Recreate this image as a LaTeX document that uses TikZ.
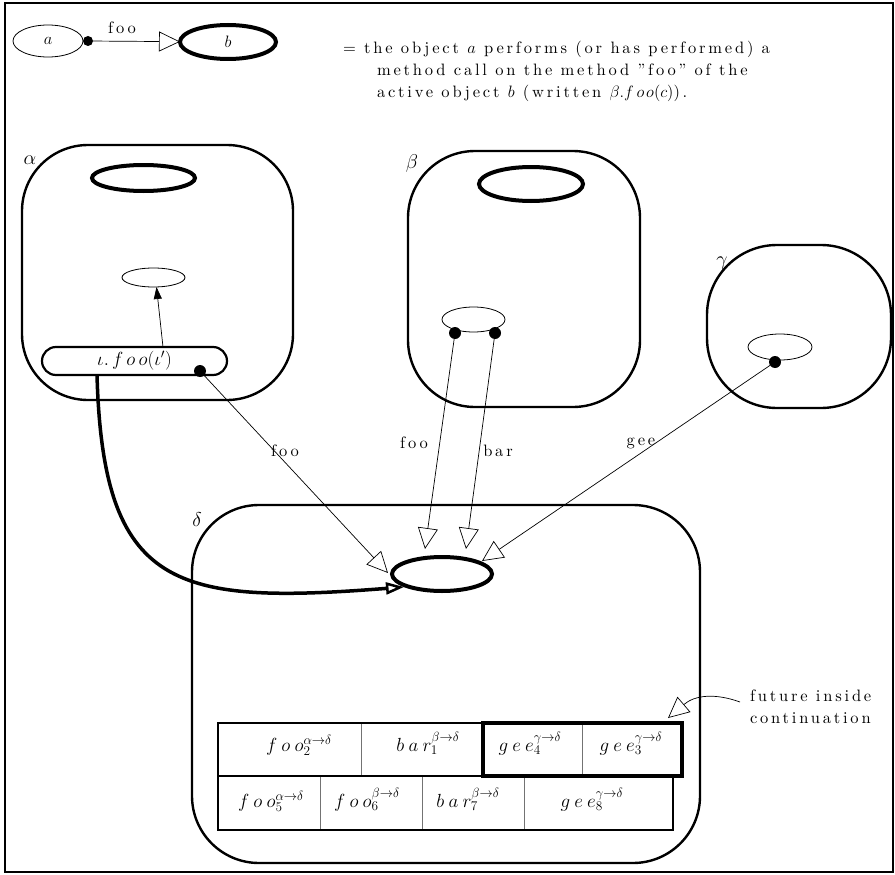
\RequirePackage{fix-cm}
\documentclass[tikz,border=0pt]{standalone}
\usepackage{fontspec}
\setmainfont{lmroman10-regular.otf}[LetterSpace=17]
\usetikzlibrary{arrows.meta,shapes.geometric}
\newcommand\txt{\fontsize{16.5}{19}\selectfont}
\newcommand\mth{\fontsize{19}{22}\selectfont}
\newcommand\grk{\fontsize{20}{24}\selectfont}
\begin{document}
\begin{tikzpicture}[x=1pt,y=-1pt,
  every node/.style={inner sep=0pt, outer sep=0pt},
  obox/.style={draw, rectangle, line width=2.4pt},
  actv/.style={ellipse, draw, line width=4pt},
  pasv/.style={ellipse, draw, line width=0.8pt},
  dotn/.style={circle, fill, minimum size=12pt},
  call/.style={line width=0.7pt, -{Triangle[open, length=21pt, width=20pt]}},
  thickcall/.style={line width=3.5pt, -{Triangle[open, length=18pt, width=12pt, line width=2.5pt]}},
  solidarrow/.style={line width=0.7pt, -{Triangle[length=12pt, width=8pt]}},
  cell/.style={draw=black!55, line width=0.8pt, rectangle},
  lbl/.style={font=\txt, anchor=base},
  qtxt/.style={font=\mth, anchor=base}]
\useasboundingbox (0,0) rectangle (895,875);
\draw[line width=1.2pt] (5,3) rectangle (893,872);

% legend
\node[pasv, minimum width=70pt, minimum height=32pt, font=\txt] (la) at (48,41) {$a$};
\node[actv, minimum width=96pt, minimum height=34pt, font=\txt] (lb) at (228,42) {$b$};
\node[dotn, minimum size=10pt] (ld) at (88,41) {};
\draw[call] (ld) -- (lb);
\node[lbl] (lfoo) at (122,34) {foo};
\node[font=\txt, anchor=base west] (l1) at (343,54) {= the object $a$ performs (or has performed) a};
\node[font=\txt, anchor=base west] (l2) at (377,76) {method call on the method ”foo” of the};
\node[font=\txt, anchor=base west] (l3) at (377,98) {active object $b$ (written $\beta.f\mkern3mu o\mkern2mu o(c)$).};

% alpha
\node[obox, rounded corners=66pt, minimum width=271pt, minimum height=255pt] (alpha) at (157.5,272.5) {};
\node[font=\grk] (lal) at (30,160) {$\alpha$};
\node[actv, minimum width=103pt, minimum height=26pt] (aact) at (143.5,178) {};
\node[pasv, minimum width=63pt, minimum height=19pt] (ae) at (153.5,277.5) {};
\node[draw, line width=2.2pt, rounded corners=14pt, minimum width=185pt, minimum height=28pt, font=\mth] (pill) at (134.5,361) {$\iota.\mkern3mu f\mkern3mu o\mkern3mu o(\iota')$};
\node[dotn] (pd) at (200,371) {};
\draw[solidarrow] ([xshift=28.5pt]pill.north) -- ([xshift=3pt]ae.south);

% beta
\node[obox, rounded corners=67pt, minimum width=232pt, minimum height=256pt] (beta) at (524,279) {};
\node[font=\grk] (lbe) at (412,163) {$\beta$};
\node[actv, minimum width=104pt, minimum height=34pt] (bact) at (531,184) {};
\node[pasv, minimum width=63pt, minimum height=25pt] (be) at (473.5,319.5) {};
\node[dotn] (bd1) at (455,333) {};
\node[dotn] (bd2) at (495,333) {};

% gamma
\node[obox, rounded corners=70pt, minimum width=184pt, minimum height=163pt] (gamma) at (799,326.5) {};
\node[font=\grk] (lga) at (722,263) {$\gamma$};
\node[pasv, minimum width=64pt, minimum height=26pt] (ge) at (780,347) {};
\node[dotn] (gd) at (775,362) {};

% delta
\node[obox, rounded corners=67pt, minimum width=508pt, minimum height=358pt] (delta) at (446,684) {};
\node[font=\grk] (lde) at (197,520) {$\delta$};
\node[actv, minimum width=100pt, minimum height=34pt] (dact) at (442,574) {};

\coordinate (tA) at (388,573);
\coordinate (tB1) at (425,549);
\coordinate (tB2) at (466,549);
\coordinate (tG) at (482,561);
\coordinate (tC) at (404,587);

\draw[call] (pd) -- (tA);
\draw[call] (bd1) -- (tB1);
\draw[call] (bd2) -- (tB2);
\draw[call] (gd) -- (tG);
\draw[thickcall] ([xshift=-37.5pt]pill.south) .. controls (103,590) and (175,605) .. (tC);

\node[lbl] (nfoo1) at (285,456) {foo};
\node[lbl] (nfoo2) at (414,448) {foo};
\node[lbl] (nbar) at (498,456) {bar};
\node[lbl] (ngee) at (641,445) {gee};

% queue
\node[cell, minimum width=143pt, minimum height=53pt] (c1) at (289.5,749.5) {};
\node[cell, minimum width=122pt, minimum height=53pt] (c2) at (422,749.5) {};
\node[cell, minimum width=99pt, minimum height=53pt] (c3) at (532.5,749.5) {};
\node[cell, minimum width=100pt, minimum height=53pt] (c4) at (632,749.5) {};
\node[cell, minimum width=102pt, minimum height=54pt] (c5) at (269,803) {};
\node[cell, minimum width=102pt, minimum height=54pt] (c6) at (371,803) {};
\node[cell, minimum width=102pt, minimum height=54pt] (c7) at (473,803) {};
\node[cell, minimum width=149pt, minimum height=54pt] (c8) at (598.5,803) {};
\draw[line width=2.4pt] (c1.north west) rectangle (c4.south east);
\draw[line width=2.4pt] (c5.north west) rectangle (c8.south east);
\draw[line width=4.5pt] (c3.north west) rectangle (c4.south east);

\node[qtxt] (t1) at (299,751) {$f\mkern4mu o\mkern4mu o_2^{\alpha\to\delta}$};
\node[qtxt] (t2) at (428,751) {$b\mkern4mu a\mkern4mu r_1^{\beta\to\delta}$};
\node[qtxt] (t3) at (530,751) {$g\mkern4mu e\mkern4mu e_4^{\gamma\to\delta}$};
\node[qtxt] (t4) at (631,751) {$g\mkern4mu e\mkern4mu e_3^{\gamma\to\delta}$};
\node[qtxt] (t5) at (271,807) {$f\mkern4mu o\mkern4mu o_5^{\alpha\to\delta}$};
\node[qtxt] (t6) at (367,807) {$f\mkern4mu o\mkern4mu o_6^{\beta\to\delta}$};
\node[qtxt] (t7) at (468,807) {$b\mkern4mu a\mkern4mu r_7^{\beta\to\delta}$};
\node[qtxt] (t8) at (592,807) {$g\mkern4mu e\mkern4mu e_8^{\gamma\to\delta}$};

% future
\node[font=\txt, anchor=base west] (fut1) at (750,701) {future inside};
\node[font=\txt, anchor=base west] (fut2) at (750,723) {continuation};
\coordinate (fs) at (740,702);
\coordinate (fe) at ([shift={(-14pt,5pt)}]c4.north east);
\draw[call] (fs) .. controls (715,693) and (695,695) .. (fe);
\end{tikzpicture}
\end{document}
